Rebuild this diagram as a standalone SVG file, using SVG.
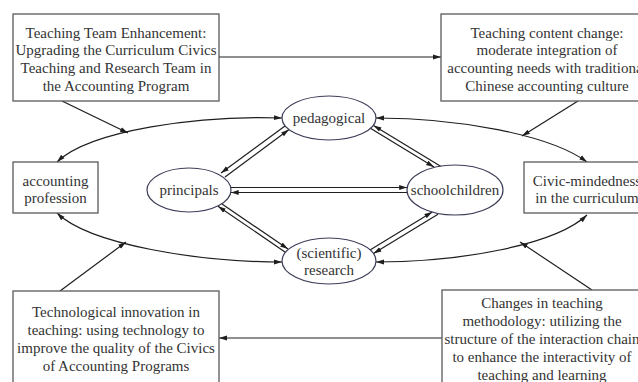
<svg xmlns="http://www.w3.org/2000/svg" width="638" height="382" viewBox="0 0 638 382">
<defs>
<marker id="ah" viewBox="0 0 10 10" refX="10" refY="5" markerWidth="8" markerHeight="8" markerUnits="userSpaceOnUse" orient="auto-start-reverse">
<path d="M0,2 L10,5 L0,8 z" fill="#1e1e1e"/>
</marker>
<style>
.box{fill:#fff;stroke:#5a5a5a;stroke-width:1.3}
.ell{fill:#fff;stroke:#3c3e58;stroke-width:1.2}
.t{font-family:"Liberation Serif","Times New Roman",serif;font-size:15px;fill:#333;text-anchor:middle}
.c{fill:none;stroke:#1e1e1e;stroke-width:1.2}
.a{marker-end:url(#ah)}
.b{marker-start:url(#ah);marker-end:url(#ah)}
</style>
</defs>
<rect width="638" height="382" fill="#fff"/>
<g id="connectors">
<path class="c a" d="M219,57 L441,57"/>
<path class="c a" d="M62,101 L128,133"/>
<path class="c a" d="M578,101 L522,136"/>
<path class="c a" d="M60,291 L126,242"/>
<path class="c a" d="M592,290 L520,242"/>
<path class="c a" d="M442,338 L219,338"/>
<path class="c b" d="M57,162 C90,130 200,115 282,118"/>
<path class="c b" d="M376,118 C460,118 550,135 587,162"/>
<path class="c b" d="M57,213 C90,245 200,262 282,262"/>
<path class="c b" d="M376,262 C460,262 555,245 587,215"/>
<path class="c a" d="M225,177 L289,129.6"/>
<path class="c a" d="M285,126 L221,173"/>
<path class="c a" d="M370,128 L434,167"/>
<path class="c a" d="M441,166.5 L373.5,125.4"/>
<path class="c a" d="M370,250 L432.3,212"/>
<path class="c a" d="M438,214.2 L373.5,253.5"/>
<path class="c a" d="M222,204 L288,249"/>
<path class="c a" d="M285.7,252.4 L218,206.2"/>
<path class="c a" d="M230.7,187.5 L407.2,187.5"/>
<path class="c a" d="M407.2,192.5 L230.7,192.5"/>
</g>
<g id="team">
<rect class="box" x="13" y="14" width="206" height="87"/>
<text class="t" x="116" y="37.5">Teaching Team Enhancement:</text>
<text class="t" x="116" y="55.3">Upgrading the Curriculum Civics</text>
<text class="t" x="116" y="73.1">Teaching and Research Team in</text>
<text class="t" x="116" y="90.9">the Accounting Program</text>
</g>
<g id="content">
<rect class="box" x="441" y="14" width="212" height="87"/>
<text class="t" x="547" y="37.5">Teaching content change:</text>
<text class="t" x="547" y="55.3">moderate integration of</text>
<text class="t" x="547" y="73.1">accounting needs with traditional</text>
<text class="t" x="547" y="90.9">Chinese accounting culture</text>
</g>
<g id="profession">
<rect class="box" x="13" y="162" width="85" height="51"/>
<text class="t" x="55.5" y="185.5">accounting</text>
<text class="t" x="55.5" y="203">profession</text>
</g>
<g id="civic">
<rect class="box" x="524" y="162" width="126" height="51"/>
<text class="t" x="587" y="185.5">Civic-mindedness</text>
<text class="t" x="587" y="203">in the curriculum</text>
</g>
<g id="technology">
<rect class="box" x="13" y="291" width="206" height="100"/>
<text class="t" x="116" y="316.5">Technological innovation in</text>
<text class="t" x="116" y="334.5">teaching: using technology to</text>
<text class="t" x="116" y="352.5">improve the quality of the Civics</text>
<text class="t" x="116" y="370.5">of Accounting Programs</text>
</g>
<g id="methodology">
<rect class="box" x="442" y="290" width="200" height="100"/>
<text class="t" x="542" y="307.5">Changes in teaching</text>
<text class="t" x="542" y="325.5">methodology: utilizing the</text>
<text class="t" x="542" y="343.5">structure of the interaction chain</text>
<text class="t" x="542" y="361.5">to enhance the interactivity of</text>
<text class="t" x="542" y="379.5">teaching and learning</text>
</g>
<g id="pedagogical">
<ellipse class="ell" cx="329" cy="118" rx="47" ry="22"/>
<text class="t" x="329" y="122.5">pedagogical</text>
</g>
<g id="principals">
<ellipse class="ell" cx="189" cy="190" rx="42" ry="22"/>
<text class="t" x="189" y="194.5">principals</text>
</g>
<g id="schoolchildren">
<ellipse class="ell" cx="455" cy="190" rx="48" ry="25"/>
<text class="t" x="455" y="195">schoolchildren</text>
</g>
<g id="research">
<ellipse class="ell" cx="329" cy="261" rx="47" ry="23"/>
<text class="t" x="329" y="257.5">(scientific)</text>
<text class="t" x="329" y="275">research</text>
</g>
</svg>
